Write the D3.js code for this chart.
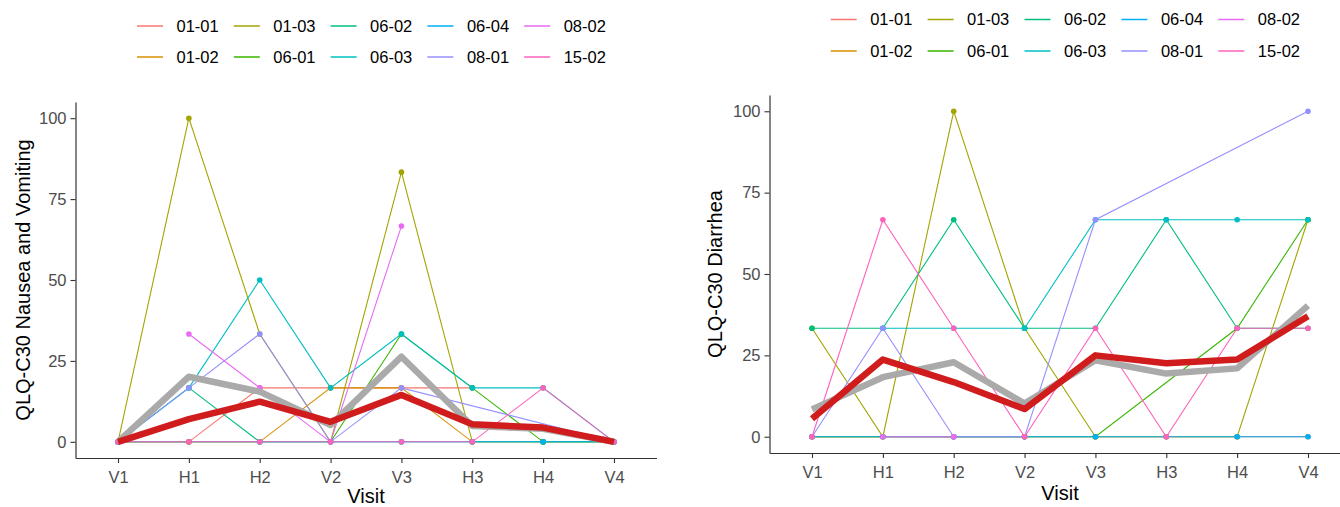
<!DOCTYPE html>
<html>
<head>
<meta charset="utf-8">
<script src="https://cdn.jsdelivr.net/npm/d3@7"></script>
<style>
  html, body { margin: 0; padding: 0; background: #fff; }
  svg { display: block; font-family: "Liberation Sans", Arial, sans-serif; }
</style>
</head>
<body>
<svg id="chart" width="1340" height="507"></svg>
<script>
// ---------------- data ----------------
const visits = ["V1", "H1", "H2", "V2", "V3", "H3", "H4", "V4"];
const subjects = ["01-01", "01-02", "01-03", "06-01", "06-02", "06-03", "06-04", "08-01", "08-02", "15-02"];
const subjectColors = ["#F8766D", "#D89000", "#A3A500", "#39B600", "#00BF7D", "#00BFC4", "#00B0F6", "#9590FF", "#E76BF3", "#FF62BC"];
const yTicks = [0, 25, 50, 75, 100];

// QLQ-C30 Nausea and Vomiting, one row per subject (null = no visit)
const nauseaValues = [
  [0, 0, 16.67, 16.67, 16.67, 16.67, null, null],   // 01-01
  [0, 0, 0, 16.67, 16.67, 0, 0, 0],                 // 01-02
  [0, 100, 33.33, 0, 83.33, 0, 0, 0],               // 01-03
  [0, 0, 0, 0, 33.33, 16.67, 0, 0],                 // 06-01
  [0, 16.67, 0, 0, 0, 0, 0, 0],                     // 06-02
  [0, 16.67, 50, 16.67, 33.33, 16.67, 16.67, 0],    // 06-03
  [0, null, 0, 0, 0, 0, 0, 0],                      // 06-04
  [0, 16.67, 33.33, 0, 16.67, null, null, 0],       // 08-01
  [null, 33.33, 16.67, 0, 66.67, null, null, null], // 08-02
  [0, 0, 0, 0, 0, 0, 16.67, 0]                      // 15-02
];
const nauseaMean = [0, 20.1, 15.5, 5.2, 26.3, 4.9, 4.0, 0];
const nauseaModel = [0, 7.0, 12.4, 6.2, 14.5, 5.4, 4.4, 0];

// QLQ-C30 Diarrhea
const diarrheaValues = [
  [0, 0, 0, 0, 0, 0, 0, 0],                              // 01-01
  [0, 0, 0, 0, null, null, null, null],                  // 01-02
  [33.33, 0, 100, 33.33, 0, 0, 0, 66.67],                // 01-03
  [0, null, 0, 0, 0, null, 33.33, 66.67],                // 06-01
  [33.33, 33.33, 66.67, 33.33, 33.33, 66.67, 33.33, 33.33], // 06-02
  [null, 33.33, 33.33, 33.33, 66.67, 66.67, 66.67, 66.67],  // 06-03
  [0, 0, 0, 0, 0, 0, 0, 0],                              // 06-04
  [0, 33.33, 0, 0, 66.67, null, null, 100],              // 08-01
  [null, 0, 0, null, null, null, null, null],            // 08-02
  [0, 66.67, 33.33, 0, 33.33, 0, 33.33, 33.33]           // 15-02
];
const diarrheaMean = [8.4, 18.3, 22.9, 10.2, 23.5, 19.4, 21.0, 40.3];
const diarrheaModel = [5.5, 23.7, 16.8, 8.5, 25.0, 22.6, 23.7, 37.0];

// ---------------- drawing ----------------
const svg = d3.select("#chart");
const color = d3.scaleOrdinal().domain(subjects).range(subjectColors);

function panel(cfg) {
  const x = d3.scalePoint().domain(visits).range([cfg.left, cfg.right]).padding(0.6);
  const y = d3.scaleLinear().domain([-5, 105]).range([cfg.bottom, cfg.top]);
  const g = svg.append("g");

  // individual subject lines
  const line = d3.line()
    .x(d => x(d.visit))
    .y(d => y(d.value));
  const seriesData = subjects.map((s, i) => ({
    subject: s,
    points: visits.map((v, j) => ({ visit: v, value: cfg.values[i][j] }))
                  .filter(p => p.value !== null)
  }));
  g.selectAll("path.subj").data(seriesData).join("path")
    .attr("class", "subj")
    .attr("fill", "none")
    .attr("stroke", d => color(d.subject))
    .attr("stroke-width", 1.1)
    .attr("d", d => line(d.points));

  // points
  seriesData.forEach(sd => {
    g.selectAll(null).data(sd.points).join("circle")
      .attr("cx", d => x(d.visit))
      .attr("cy", d => y(d.value))
      .attr("r", 2.8)
      .attr("fill", color(sd.subject));
  });

  // mean (grey) and model (red) lines
  const summaryLine = d3.line().x((d, i) => x(visits[i])).y(d => y(d));
  g.append("path").attr("fill", "none").attr("stroke", "#AAAAAA")
    .attr("stroke-width", 6.5).attr("stroke-linejoin", "round")
    .attr("d", summaryLine(cfg.mean));
  g.append("path").attr("fill", "none").attr("stroke", "#D01C1C")
    .attr("stroke-width", 6.5).attr("stroke-linejoin", "round")
    .attr("d", summaryLine(cfg.model));

  // axes
  const xAxis = g.append("g").attr("transform", `translate(0,${cfg.bottom})`)
    .call(d3.axisBottom(x).tickSize(5).tickSizeOuter(0).tickPadding(8));
  const yAxis = g.append("g").attr("transform", `translate(${cfg.left},0)`)
    .call(d3.axisLeft(y).tickValues(yTicks).tickSize(5).tickSizeOuter(0).tickPadding(4));
  [xAxis, yAxis].forEach(a => {
    a.select(".domain").attr("stroke", "#333").attr("stroke-width", 1.2);
    a.selectAll(".tick line").attr("stroke", "#333").attr("stroke-width", 1.1);
    a.selectAll(".tick text").attr("fill", "#4D4D4D")
      .style("font-size", "16.5px").style("font-family", "'Liberation Sans', Arial, sans-serif");
  });

  // axis titles
  g.append("text").attr("x", (cfg.left + cfg.axisTitleRight) / 2).attr("y", cfg.xTitleY)
    .attr("text-anchor", "middle").style("font-size", "20px").attr("fill", "#000")
    .text("Visit");
  g.append("text")
    .attr("transform", `translate(${cfg.yTitleX},${(cfg.top + cfg.bottom) / 2}) rotate(-90)`)
    .attr("text-anchor", "middle").attr("dy", "0.35em")
    .style("font-size", "20px").attr("fill", "#000")
    .text(cfg.yTitle);

  // legend (2 rows, filled column by column)
  const lg = svg.append("g");
  subjects.forEach((s, i) => {
    const col = Math.floor(i / 2), row = i % 2;
    const kx = cfg.legendX + col * cfg.legendStep;
    const ky = cfg.legendRows[row];
    lg.append("line").attr("x1", kx).attr("x2", kx + 26).attr("y1", ky).attr("y2", ky)
      .attr("stroke", color(s)).attr("stroke-width", 1.5);
    lg.append("text").attr("x", kx + 39.5).attr("y", ky).attr("dy", "0.35em")
      .style("font-size", "16.5px").attr("fill", "#000").text(s);
  });
}

panel({
  left: 75.5, right: 656.5, top: 102, bottom: 458,
  axisTitleRight: 656.5, xTitleY: 503, yTitleX: 23,
  yTitle: "QLQ-C30 Nausea and Vomiting",
  values: nauseaValues, mean: nauseaMean, model: nauseaModel,
  legendX: 137, legendStep: 96.8, legendRows: [26, 57]
});

panel({
  left: 769.5, right: 1350.5, top: 95, bottom: 453,
  axisTitleRight: 1350.5, xTitleY: 500, yTitleX: 715,
  yTitle: "QLQ-C30 Diarrhea",
  values: diarrheaValues, mean: diarrheaMean, model: diarrheaModel,
  legendX: 830.7, legendStep: 96.9, legendRows: [19.5, 51]
});
</script>
</body>
</html>
